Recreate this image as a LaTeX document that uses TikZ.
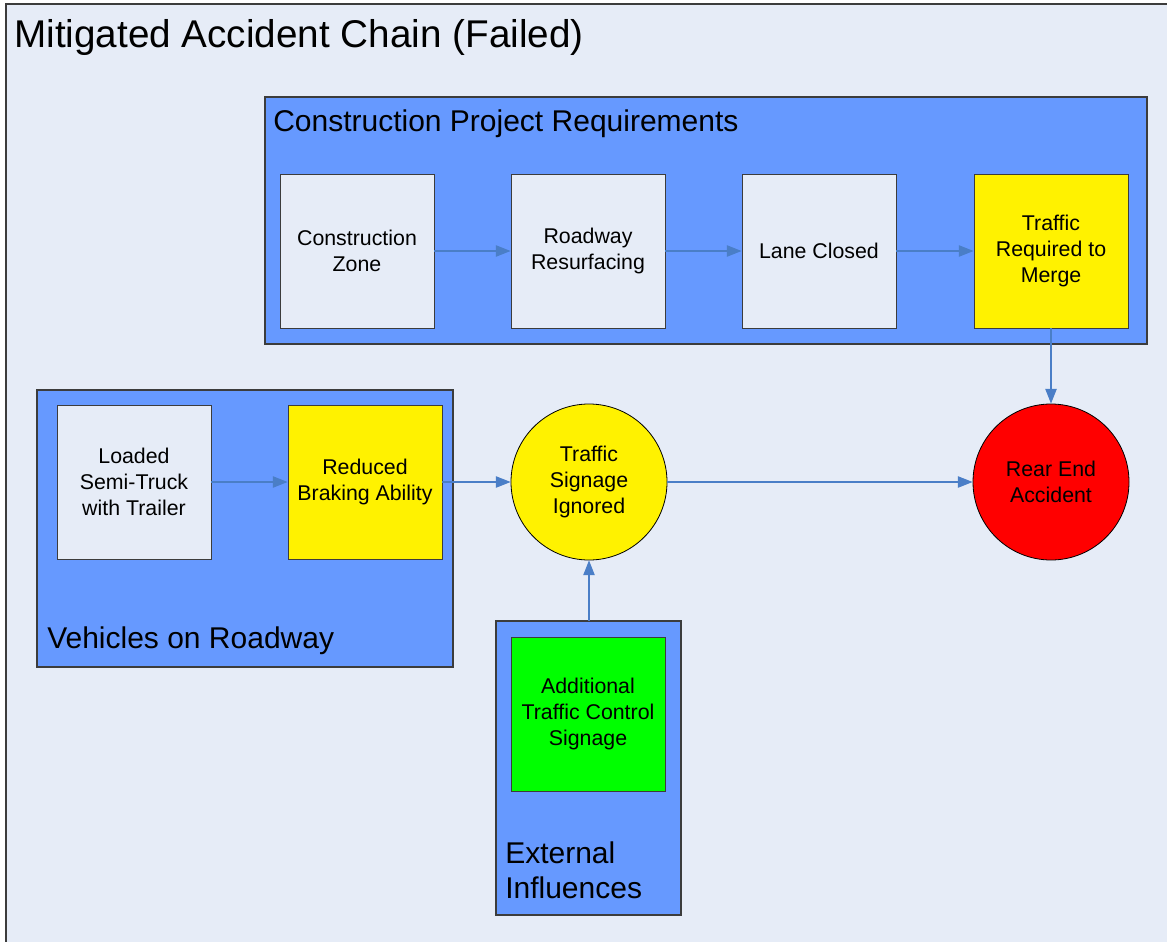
\documentclass[tikz,border=0pt]{standalone}
\usepackage{fontspec}
\setmainfont{Liberation Sans}
\usetikzlibrary{arrows.meta}
\definecolor{pagebg}{HTML}{E6ECF7}
\definecolor{groupfill}{HTML}{6699FF}
\definecolor{linkcol}{HTML}{4A7EC7}
\definecolor{edgecol}{HTML}{3C3C3C}
\tikzset{
  group/.style={draw=edgecol, line width=0.9pt, fill=groupfill},
  grouplabel/.style={anchor=west, inner sep=0pt, font=\fontsize{22.5}{26}\selectfont, align=left},
  stepbox/.style={draw=edgecol, line width=0.7pt, fill=pagebg, minimum width=115.5pt, minimum height=115.5pt, inner sep=2pt, align=center, font=\fontsize{16}{19.5}\selectfont},
  warnbox/.style={stepbox, fill=yellow},
  okbox/.style={stepbox, fill=green},
  eventcirc/.style={circle, draw=black, line width=0.6pt, minimum size=117pt, inner sep=0pt, align=center, font=\fontsize{16}{19.5}\selectfont},
  link/.style={draw=linkcol, line width=0.8pt, -{Triangle[length=11pt,width=8.5pt]}}
}
\begin{document}
\begin{tikzpicture}[x=0.75pt, y=-0.75pt]
\useasboundingbox (0,0) rectangle (1167,942);
\fill[white] (0,0) rectangle (1167,942);
\draw[edgecol, line width=0.8pt, fill=pagebg] (6,4) rectangle (1180,955);
\node[anchor=west, inner sep=0pt, font=\fontsize{29}{34}\selectfont] (title) at (14,38) {Mitigated Accident Chain (Failed)};

% construction project group
\draw[group] (265,97) rectangle (1147,344);
\node[grouplabel] (cprlabel) at (273,124) {Construction Project Requirements};
\node[stepbox] (zone) at (357,251) {Construction\\Zone};
\node[stepbox] (resurf) at (588,251) {Roadway\\Resurfacing};
\node[stepbox] (lane) at (819,251) {Lane Closed};
\node[warnbox] (merge) at (1051,251) {Traffic\\Required to\\Merge};

% vehicles group
\draw[group] (37,390) rectangle (453,667);
\node[grouplabel] (vehlabel) at (47,641) {Vehicles on Roadway};
\node[stepbox] (truck) at (134,482) {Loaded\\Semi-Truck\\with Trailer};
\node[warnbox] (brake) at (365,482) {Reduced\\Braking Ability};

% external influences group
\draw[group] (496,621) rectangle (681,915);
\coordinate (exttop) at (589,621);
\node[grouplabel] (extlabel) at (505,870) {External\\Influences};
\node[okbox] (signage) at (588,714) {Additional\\Traffic Control\\Signage};

% events
\node[eventcirc, fill=yellow] (ignored) at (589,482) {Traffic\\Signage\\Ignored};
\node[eventcirc, fill=red] (crash) at (1051,482) {Rear End\\Accident};

% links
\draw[link] (zone) -- (resurf);
\draw[link] (resurf) -- (lane);
\draw[link] (lane) -- (merge);
\draw[link] (truck) -- (brake);
\draw[link] (brake) -- (ignored);
\draw[link] (ignored) -- (crash);
\draw[link] (merge) -- (crash);
\draw[link] (exttop) -- (ignored);
\end{tikzpicture}
\end{document}
